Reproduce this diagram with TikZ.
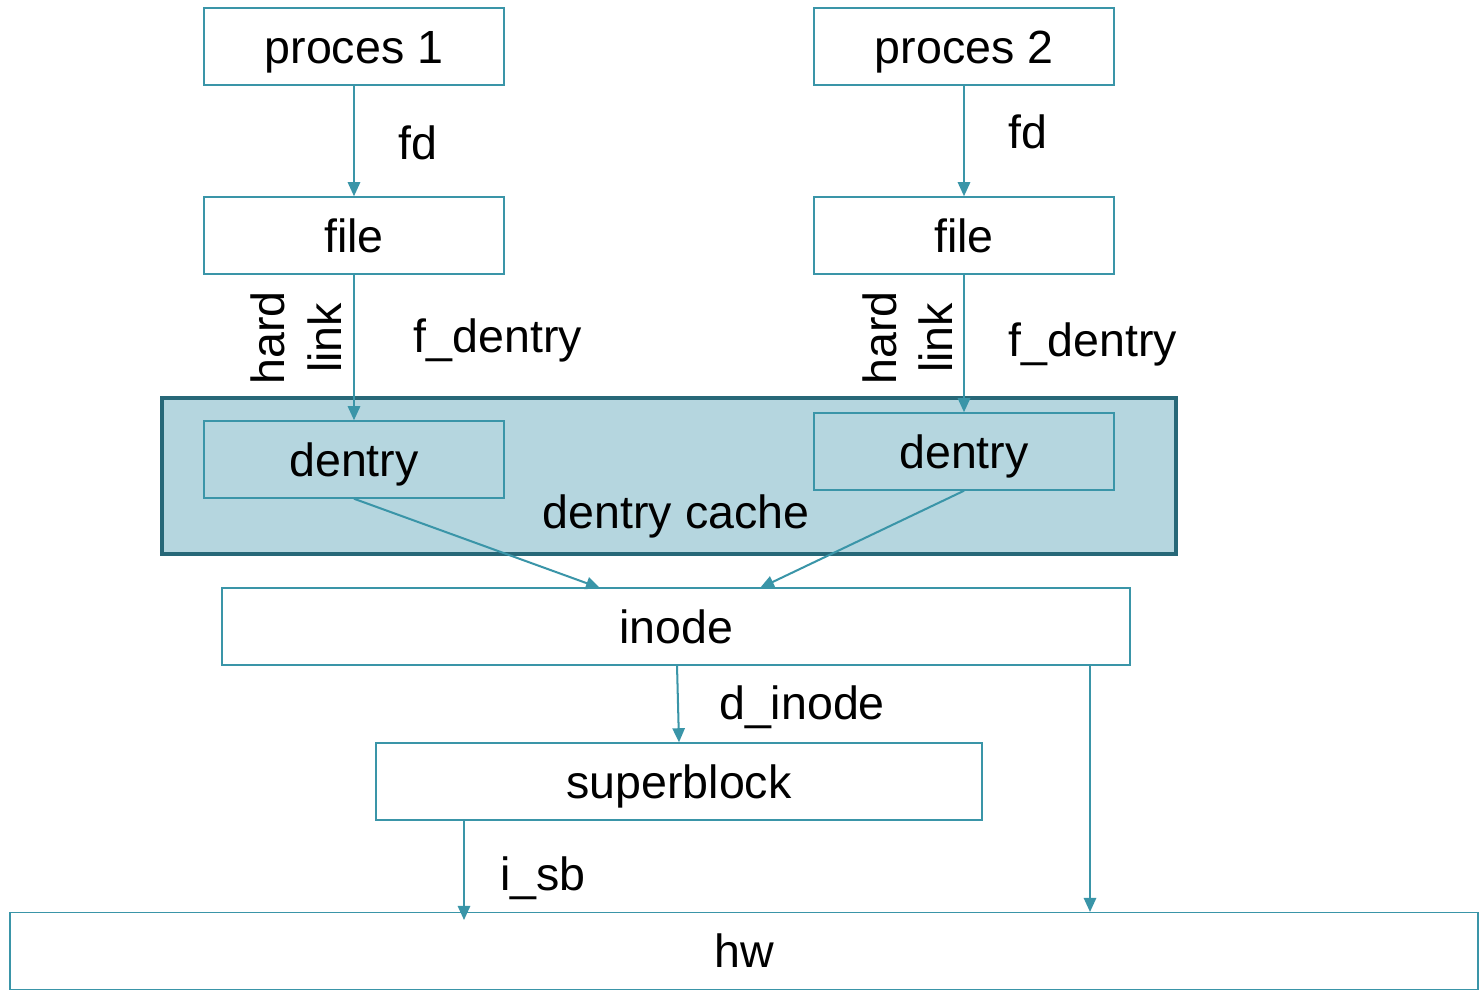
\documentclass[tikz,border=0pt]{standalone}
\usepackage{fontspec}
\setmainfont{Liberation Sans}
\usepackage{xcolor}
\usetikzlibrary{positioning,arrows.meta}
\definecolor{EdgeTeal}{RGB}{58,149,168}
\definecolor{CacheFill}{RGB}{181,214,223}
\definecolor{CacheLine}{RGB}{39,104,120}

\begin{document}
\begin{tikzpicture}[
        x=0.02cm, y=-0.02cm,
        font=\fontsize{26.5}{30}\selectfont,
        % --- STYLE CHUNG ---
        box/.style={
            rectangle,
            draw=EdgeTeal,
            line width=0.85pt,
            fill=white,
            minimum width=6cm,
            minimum height=1.54cm,
            inner sep=0pt,
            text height=19pt,
            text depth=0pt
        },
        % Hop trong cache
        cachebox/.style={
            box,
            fill=CacheFill
        },
        % Duong noi
        link/.style={
            draw=EdgeTeal,
            line width=1.15pt,
            -{Triangle[width=7pt,length=8pt]}
        },
        tag/.style={inner sep=0pt, text height=19pt, text depth=0pt}
    ]
        \useasboundingbox (0,0) rectangle (1479,993);

        % --- DENTRY CACHE ---
        \node[
            rectangle,
            draw=CacheLine,
            fill=CacheFill,
            line width=2.3pt,
            minimum width=20.28cm,
            minimum height=3.12cm,
            inner sep=0pt
        ] (cache) at (669,476) {};
        \node[tag] (cachelabel) at (676,512) {dentry cache};

        % --- HOP ---
        \node[box] (p1) at (354,46.5) {proces 1};
        \node[box] (p2) at (964,46.5) {proces 2};
        \node[box] (f1) at (354,235.5) {file};
        \node[box] (f2) at (964,235.5) {file};
        \node[cachebox] (d1) at (354,459.5) {dentry};
        \node[cachebox] (d2) at (964,451.5) {dentry};
        \node[box, minimum width=18.16cm] (inode) at (676,626.5) {inode};
        \node[box, minimum width=12.12cm] (sb) at (679,781.5) {superblock};
        \node[box, minimum width=29.36cm] (hw) at (744,951) {hw};

        % --- DIEM DICH ---
        \coordinate (in1) at (600,588);
        \coordinate (in2) at (760,588);
        \coordinate (inR) at (1090,665);
        \coordinate (hwR) at (1090,912);
        \coordinate (sbL) at (464,820);
        \coordinate (hwL) at (464,920);
        \coordinate (inM) at (677,665);

        % --- DUONG NOI ---
        \draw[link] (p1.south) -- (f1.north);
        \draw[link] (p2.south) -- (f2.north);
        \draw[link] (f1.south) -- (d1.north);
        \draw[link] (f2.south) -- (d2.north);
        \draw[link] (d1.south) -- (in1);
        \draw[link] (d2.south) -- (in2);
        \draw[link] (inM) -- (sb.north);
        \draw[link] (inR) -- (hwR);
        \draw[link] (sbL) -- (hwL);

        % --- NHAN ---
        \node[tag] (fd1) at (418,143) {fd};
        \node[tag] (fd2) at (1028,132) {fd};
        \node[tag] (fde1) at (498,336) {f\_dentry};
        \node[tag] (fde2) at (1093,340) {f\_dentry};
        \node[tag, rotate=90] (hard1) at (268,338) {hard};
        \node[tag, rotate=90] (link1) at (325,338) {link};
        \node[tag, rotate=90] (hard2) at (880,338) {hard};
        \node[tag, rotate=90] (link2) at (936,338) {link};
        \node[tag] (dinode) at (802,703) {d\_inode};
        \node[tag] (isb) at (543,874) {i\_sb};

    \end{tikzpicture}
\end{document}
